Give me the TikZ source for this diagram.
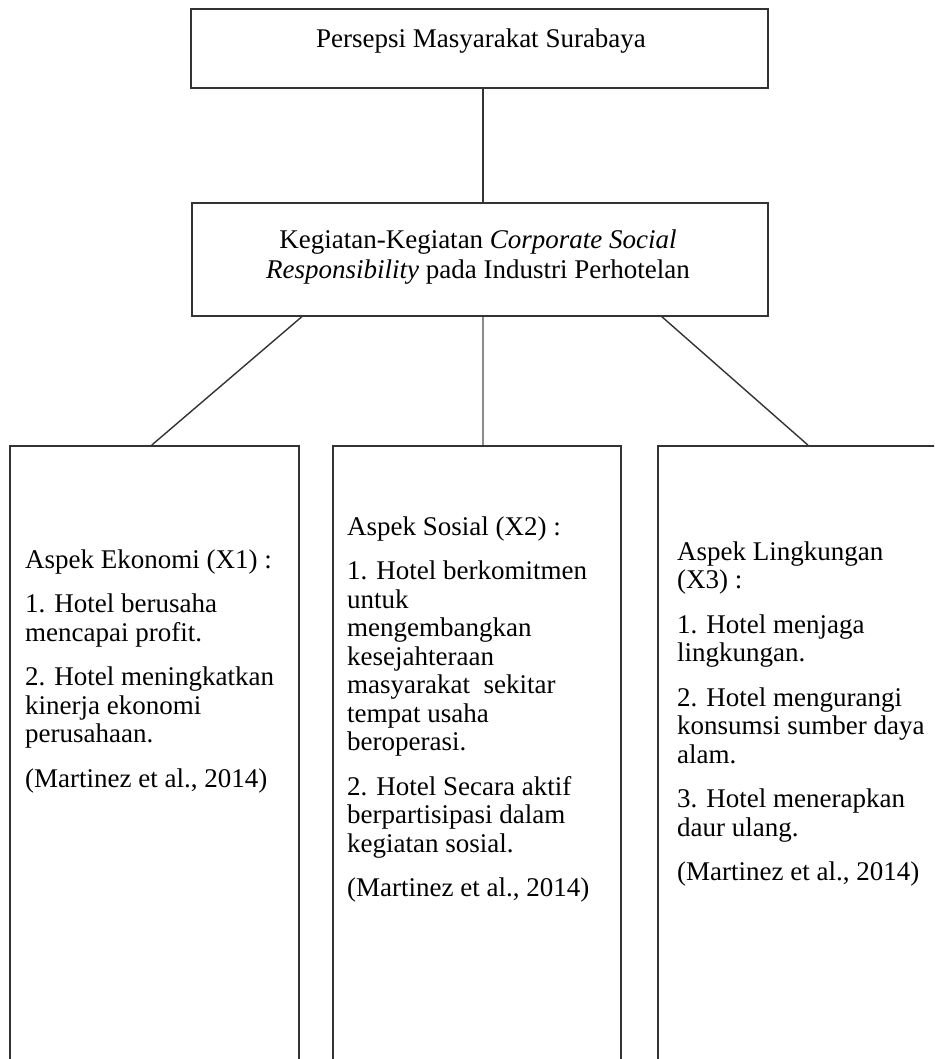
\documentclass[tikz,border=0pt]{standalone}
\usepackage{fontspec}
\setmainfont{Liberation Serif}
\begin{document}
\begin{tikzpicture}[x=1pt,y=-1pt,
  box/.style={draw=black!80,line width=1.7pt,rectangle,inner sep=0pt,anchor=north west},
  link/.style={draw=black!80,line width=1.4pt},
  txt/.style={inner sep=0pt,align=left,anchor=north west,font=\fontsize{27}{28.5}\selectfont},
  ctxt/.style={inner sep=0pt,align=center,font=\fontsize{27}{30}\selectfont}]
\useasboundingbox (0,0) rectangle (934,1059);
\clip (0,0) rectangle (934,1059);
\node[box,minimum width=577pt,minimum height=79pt] (p) at (190,8) {};
\node[box,minimum width=576pt,minimum height=113pt] (k) at (191,202) {};
\node[box,minimum width=289pt,minimum height=700pt] (a1) at (9,445) {};
\node[box,minimum width=288pt,minimum height=700pt] (a2) at (332,445) {};
\node[box,minimum width=289pt,minimum height=700pt] (a3) at (657,445) {};
\node[ctxt,anchor=base] (pt) at (481,48) {Persepsi Masyarakat Surabaya};
\node[ctxt,anchor=north] (kt) at (478,229.5) {Kegiatan-Kegiatan \textit{Corporate Social}\\ \textit{Responsibility} pada Industri Perhotelan};
\node[txt] (t1) at (25,549.4) {Aspek Ekonomi (X1) :\\[16pt] 1. Hotel berusaha\\ mencapai profit.\\[16pt] 2. Hotel meningkatkan\\ kinerja ekonomi\\ perusahaan.\\[16pt] (Martinez et al., 2014)};
\node[txt] (t2) at (347,516.4) {Aspek Sosial (X2) :\\[16pt] 1. Hotel berkomitmen\\ untuk\\ mengembangkan\\ kesejahteraan\\ masyarakat \ sekitar\\ tempat usaha\\ beroperasi.\\[16pt] 2. Hotel Secara aktif\\ berpartisipasi dalam\\ kegiatan sosial.\\[16pt] (Martinez et al., 2014)};
\node[txt] (t3) at (677,541.4) {Aspek Lingkungan\\ (X3) :\\[16pt] 1. Hotel menjaga\\ lingkungan.\\[16pt] 2. Hotel mengurangi\\ konsumsi sumber daya\\ alam.\\[16pt] 3. Hotel menerapkan\\ daur ulang.\\[16pt] (Martinez et al., 2014)};
\draw[link] ([xshift=3.5pt]p.south) -- ([xshift=3pt]k.north);
\draw[link] ([xshift=-178pt]k.south) -- ([xshift=-2.5pt]a1.north);
\draw[link,draw=black!45] ([xshift=3pt]k.south) -- ([xshift=6pt]a2.north);
\draw[link] ([xshift=182pt]k.south) -- ([xshift=5.5pt]a3.north);
\end{tikzpicture}
\end{document}
